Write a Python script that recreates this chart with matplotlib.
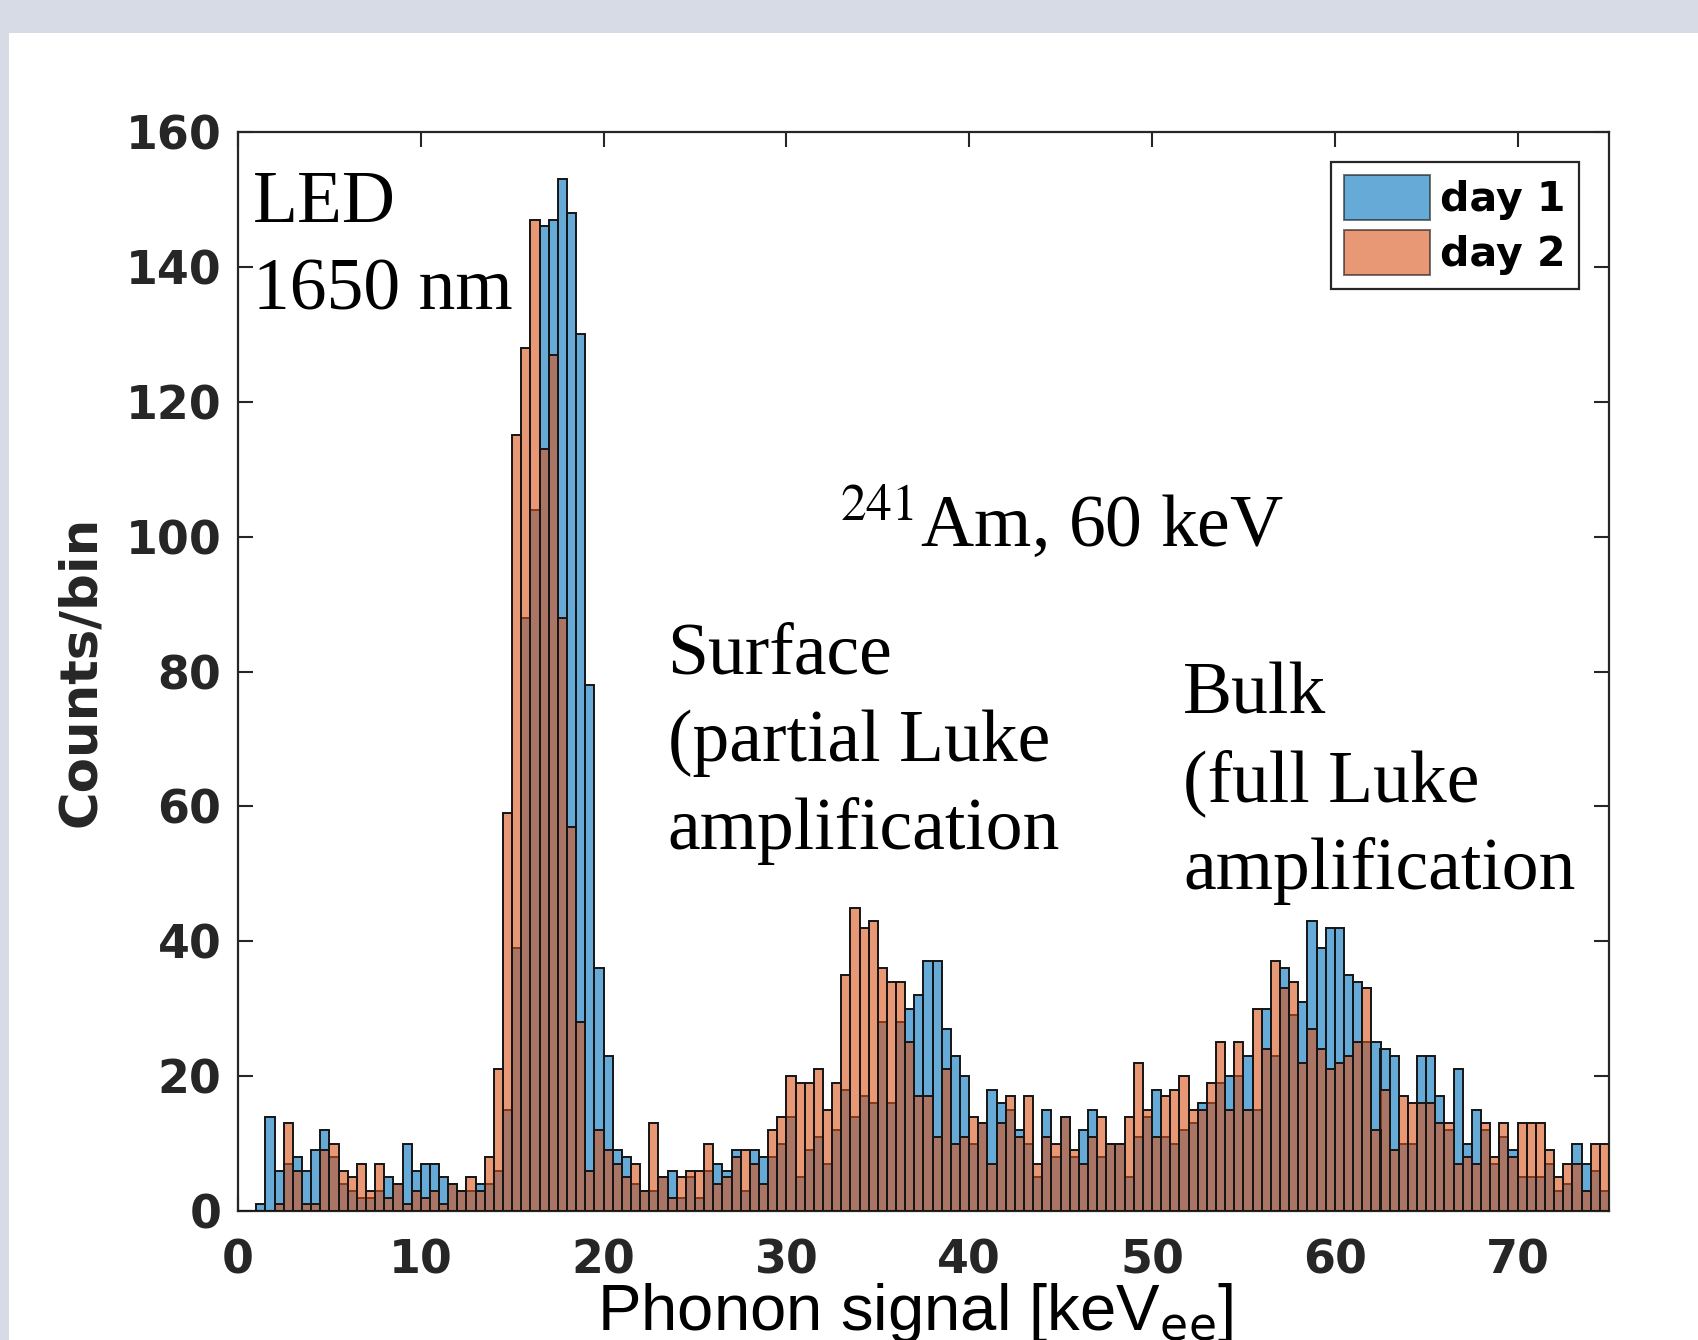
import numpy as np
import matplotlib
matplotlib.use("Agg")
import matplotlib.pyplot as plt
from matplotlib.patches import Rectangle, Patch

# Histogram bins: 0.5 keV wide, from 0 to 75 keV
bin_width = 0.5
x_min, x_max = 0.0, 75.0

day1_counts = [
    0, 0, 1, 14, 6, 7, 8, 6, 9, 12,
    8, 4, 3, 2, 2, 3, 5, 4, 10, 6,
    7, 7, 5, 4, 3, 3, 4, 4, 6, 15,
    39, 88, 104, 146, 147, 153, 148, 130, 78, 36,
    23, 9, 8, 4, 3, 3, 5, 6, 2, 5,
    2, 6, 7, 6, 9, 3, 9, 8, 8, 10,
    14, 5, 9, 11, 7, 12, 18, 14, 17, 16,
    28, 16, 28, 30, 32, 37, 37, 27, 23, 20,
    10, 13, 18, 16, 15, 12, 10, 5, 15, 8,
    14, 8, 12, 15, 8, 10, 10, 5, 11, 14,
    18, 11, 10, 12, 13, 16, 16, 19, 20, 20,
    23, 15, 30, 23, 36, 29, 31, 43, 39, 42,
    42, 35, 34, 25, 25, 24, 23, 10, 10, 23,
    23, 17, 12, 21, 10, 15, 12, 7, 11, 9,
    5, 5, 5, 7, 3, 4, 10, 7, 6, 3,
]

day2_counts = [
    0, 0, 0, 0, 1, 13, 6, 1, 1, 9,
    10, 6, 5, 7, 3, 7, 2, 4, 1, 3,
    2, 3, 1, 4, 3, 5, 3, 8, 21, 59,
    115, 128, 147, 113, 127, 88, 57, 28, 6, 12,
    9, 7, 5, 7, 3, 13, 5, 2, 5, 6,
    6, 10, 4, 5, 8, 9, 7, 4, 12, 14,
    20, 19, 19, 21, 15, 19, 35, 45, 42, 43,
    36, 34, 34, 25, 17, 17, 11, 21, 10, 11,
    14, 13, 7, 13, 17, 11, 17, 7, 11, 10,
    14, 9, 7, 11, 14, 10, 10, 14, 22, 15,
    11, 17, 18, 20, 15, 15, 19, 25, 15, 25,
    15, 30, 24, 37, 33, 34, 22, 27, 24, 21,
    22, 23, 25, 33, 12, 18, 9, 17, 16, 16,
    16, 13, 13, 7, 8, 7, 13, 8, 13, 8,
    13, 13, 13, 9, 5, 7, 7, 3, 10, 10,
]

series_labels = ["day 1", "day 2"]
x_ticks = [0, 10, 20, 30, 40, 50, 60, 70]
y_ticks = [0, 20, 40, 60, 80, 100, 120, 140, 160]

blue = "#0072BD"
orange = "#D95319"
face_alpha = 0.6

W, H = 1699, 1340
fig = plt.figure(figsize=(W / 100, H / 100), dpi=100)
fig.patch.set_facecolor("white")
band = "#d7dbe5"
fig.patches.append(Rectangle((0, 1 - 33 / H), 1, 33 / H, transform=fig.transFigure,
                             facecolor=band, edgecolor="none", zorder=-5))
fig.patches.append(Rectangle((0, 0), 9 / W, 1, transform=fig.transFigure,
                             facecolor=band, edgecolor="none", zorder=-5))

ax = fig.add_axes([238 / W, 1 - 1211 / H, (1609 - 238) / W, (1211 - 132) / H])
ax.set_facecolor("white")

edges = np.arange(x_min, x_max + bin_width / 2, bin_width)
lefts = edges[:-1]

ax.bar(lefts, day1_counts, width=bin_width, align="edge",
       color=blue, alpha=face_alpha, edgecolor="none", zorder=2)
ax.bar(lefts, day1_counts, width=bin_width, align="edge",
       fill=False, edgecolor="#151515", linewidth=1.4, zorder=2.1)
ax.bar(lefts, day2_counts, width=bin_width, align="edge",
       color=orange, alpha=face_alpha, edgecolor="none", zorder=3)
ax.bar(lefts, day2_counts, width=bin_width, align="edge",
       fill=False, edgecolor="#151515", linewidth=1.4, zorder=3.1)

ax.set_xlim(x_min, x_max)
ax.set_ylim(0, 160)
ax.set_xticks(x_ticks)
ax.set_yticks(y_ticks)

tick_color = "#262626"
ax.tick_params(axis="both", which="major", direction="in", length=11, width=1.5,
               top=True, right=True, colors=tick_color, labelsize=33)
ax.tick_params(axis="x", pad=20)
ax.tick_params(axis="y", pad=12)
for lbl in ax.get_xticklabels() + ax.get_yticklabels():
    lbl.set_fontweight("bold")
    lbl.set_fontfamily("DejaVu Sans")
for sp in ax.spines.values():
    sp.set_linewidth(1.6)
    sp.set_color(tick_color)

ax.set_ylabel("Counts/bin", fontsize=37, fontweight="bold", color=tick_color,
              fontfamily="DejaVu Sans", labelpad=14)
ax.set_xlabel(r"Phonon signal [keV$_{\mathrm{ee}}$]", fontsize=47,
              fontfamily="Liberation Sans", color="black", labelpad=-2)
ax.xaxis.label.set_x(0.494)

serif = "Liberation Serif"
plt.rcParams["mathtext.fontset"] = "stix"
ax.text(0.8, 142.8, "LED\n1650 nm", fontsize=53, fontfamily=serif,
        va="center", ha="left", linespacing=1.38, zorder=5)
ax.text(32.9, 102, r"$^{241}$Am, 60 keV", fontsize=53, fontfamily=serif,
        va="center", ha="left", zorder=5)
ax.text(23.5, 69.3, "Surface\n(partial Luke\namplification", fontsize=53,
        fontfamily=serif, va="center", ha="left", linespacing=1.38, zorder=5)
ax.text(51.7, 63.4, "Bulk\n(full Luke\namplification", fontsize=53,
        fontfamily=serif, va="center", ha="left", linespacing=1.38, zorder=5)

handles = [Patch(facecolor=blue, alpha=face_alpha, edgecolor="#151515", linewidth=1.4),
           Patch(facecolor=orange, alpha=face_alpha, edgecolor="#151515", linewidth=1.4)]
leg = ax.legend(handles, series_labels, loc="upper right",
                bbox_to_anchor=(1579 / W, 1 - 162 / H), bbox_transform=fig.transFigure,
                prop={"family": "DejaVu Sans", "weight": "bold", "size": 29.5},
                handlelength=2.1, handleheight=1.3, handletextpad=0.25,
                labelspacing=0.25, borderpad=0.32, borderaxespad=0.0,
                fancybox=False, framealpha=1, edgecolor="#262626")
leg.get_frame().set_linewidth(1.6)
leg.set_zorder(6)

fig.savefig("out.png", dpi=100, facecolor=fig.get_facecolor())
